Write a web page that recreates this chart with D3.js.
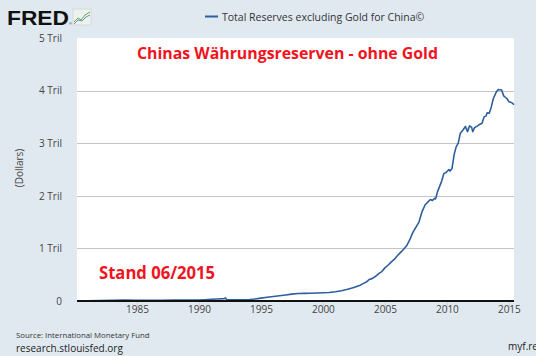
<!DOCTYPE html>
<html><head><meta charset="utf-8">
<script src="https://cdn.jsdelivr.net/npm/d3@7"></script>
<style>
html,body{margin:0;padding:0;background:#e1e9f0;overflow:hidden}
svg{display:block}
</style></head>
<body>
<svg id="c" width="536" height="356"></svg>
<script>
// Data: Total Reserves excluding Gold for China (billions of US dollars)
const dates = ["1980-03","1981-01","1982-01","1983-01","1984-01","1985-01","1986-01","1987-01","1988-01","1989-01",
"1990-01","1990-07","1991-01","1991-07","1992-01","1992-03","1992-04","1993-01","1994-01","1994-07",
"1995-01","1995-07","1996-01","1996-07","1997-01","1997-07","1998-01","1998-07","1999-01","1999-07",
"2000-01","2000-07","2001-01","2001-07","2002-01","2002-07","2003-01","2003-04","2003-07","2003-10",
"2004-01","2004-04","2004-07","2004-10","2005-01","2005-04","2005-07","2005-10","2006-01","2006-04",
"2006-07","2006-10","2007-01","2007-04","2007-07","2007-10","2008-01","2008-04","2008-07","2008-09",
"2008-11","2009-01","2009-02","2009-04","2009-06","2009-08","2009-10","2009-12","2010-02","2010-03",
"2010-04","2010-06","2010-08","2010-10","2010-12","2011-02","2011-05","2011-07","2011-09","2011-11",
"2012-01","2012-02","2012-04","2012-06","2012-08","2012-11","2013-01","2013-03","2013-04","2013-06",
"2013-08","2013-10","2014-01","2014-03","2014-06","2014-08","2014-11","2015-01","2015-04","2015-06"];
const reserves = [2.5,4,8,13,16,15,12,14,18,18,
20,25,32,38,45,55,22,21,24,38,
55,72,85,100,115,130,143,145,148,153,
157,162,175,195,225,255,300,330,360,410,
430,470,520,560,630,680,740,790,860,920,
980,1050,1160,1300,1400,1500,1700,1830,1890,1930,
1910,1950,1940,2080,2180,2280,2420,2440,2480,2500,
2470,2520,2780,2930,3000,3190,3260,3320,3220,3330,
3300,3220,3300,3320,3350,3380,3500,3520,3580,3570,
3690,3850,3980,4020,4010,3900,3850,3790,3770,3730];
const yTicks = [0,1000,2000,3000,4000,5000];
const yTickLabels = ["0","1 Tril","2 Tril","3 Tril","4 Tril","5 Tril"];
const xTickYears = [1985,1990,1995,2000,2005,2010,2015];
const seriesName = "Total Reserves excluding Gold for China\u00A9";
const title = "Chinas Währungsreserven - ohne Gold";
const note = "Stand 06/2015";

const parse = d3.timeParse("%Y-%m");
const data = dates.map((d,i)=>({date:parse(d), v:reserves[i]}));

const svg = d3.select("#c");
const L=77, R=514, T=38, B=301;
const x = d3.scaleTime().domain(d3.extent(data,d=>d.date)).range([L,R]);
const y = d3.scaleLinear().domain([0,5000]).range([B,T]);

svg.append("rect").attr("width",536).attr("height",356).attr("fill","#e1e9f0");
svg.append("rect").attr("x",L).attr("y",T).attr("width",R-L).attr("height",B-T).attr("fill","#ffffff");

// gridlines
svg.append("g").selectAll("line").data(yTicks.filter(t=>t>0&&t<5000)).join("line")
  .attr("x1",L).attr("x2",R).attr("y1",d=>Math.round(y(d))+0.5).attr("y2",d=>Math.round(y(d))+0.5)
  .attr("stroke","#c4c4c4").attr("stroke-width",1);

// y axis labels
const yAxis = d3.axisLeft(y).tickValues(yTicks).tickFormat((d,i)=>yTickLabels[i]).tickSize(0).tickPadding(0);
const gy = svg.append("g").attr("transform",`translate(62,0)`).call(yAxis);
gy.select(".domain").remove();
gy.selectAll("text").attr("font-family","Open Sans, sans-serif").attr("font-size",10).attr("fill","#444");

svg.append("text").attr("transform","translate(23,168) rotate(-90)").attr("text-anchor","middle")
  .attr("font-family","Open Sans, sans-serif").attr("font-size",10).attr("fill","#444").text("(Dollars)");

// x axis
const xAxis = d3.axisBottom(x).tickValues(xTickYears.map(yv=>new Date(yv,0,1)))
  .tickFormat(d3.timeFormat("%Y")).tickSize(9).tickPadding(3);
const gx = svg.append("g").attr("transform",`translate(0,${B})`).call(xAxis);
gx.select(".domain").remove();
gx.selectAll("line").attr("stroke","#c8d4e0");
gx.selectAll("text").attr("font-family","Open Sans, sans-serif").attr("font-size",10).attr("fill","#444").attr("dy","-0.05em");

// series line
svg.append("path").datum(data)
  .attr("d",d3.line().x(d=>x(d.date)).y(d=>y(d.v)))
  .attr("fill","none").attr("stroke","#2f5e9e").attr("stroke-width",1.6).attr("stroke-linejoin","round");

// baseline
svg.append("line").attr("x1",L).attr("x2",R).attr("y1",B).attr("y2",B).attr("stroke","#111").attr("stroke-width",2);

// legend
svg.append("line").attr("x1",205).attr("x2",218).attr("y1",16.5).attr("y2",16.5).attr("stroke","#2f5e9e").attr("stroke-width",2);
svg.append("text").attr("x",222).attr("y",20.5).attr("font-family","Open Sans, sans-serif").attr("font-size",10.5)
  .attr("fill","#333").text(seriesName);

// FRED logo
svg.append("text").attr("x",7).attr("y",24.5).attr("font-family","Liberation Sans, Arial, sans-serif").attr("font-weight",900)
  .attr("font-size",21).attr("fill","#111").attr("textLength",62).attr("lengthAdjust","spacingAndGlyphs").text("FRED");
svg.append("text").attr("x",69).attr("y",25).attr("font-family","Liberation Sans, sans-serif").attr("font-size",4).attr("fill","#333").text("®");
const ic = svg.append("g").attr("transform","translate(73,9)");
ic.append("rect").attr("width",18).attr("height",16).attr("fill","#eef2ee").attr("stroke","#d6dbd6");
ic.append("polyline").attr("points","1,13 5,9 8,11 12,6 17,3").attr("fill","none").attr("stroke","#6aa84f").attr("stroke-width",1);
ic.append("polyline").attr("points","1,15 5,11 9,12 13,8 17,6").attr("fill","none").attr("stroke","#5b8fc7").attr("stroke-width",1);

// red annotations
svg.append("text").attr("x",137).attr("y",58.5).attr("font-family","Open Sans, sans-serif").attr("font-weight",700)
  .attr("font-size",16).attr("fill","#f0141e").attr("textLength",301).attr("lengthAdjust","spacingAndGlyphs").text(title);
svg.append("text").attr("x",99).attr("y",279).attr("font-family","Open Sans, sans-serif").attr("font-weight",700)
  .attr("font-size",17).attr("fill","#f0141e").attr("textLength",116).attr("lengthAdjust","spacingAndGlyphs").text(note);

// footer
svg.append("text").attr("x",16).attr("y",338).attr("font-family","Open Sans, sans-serif").attr("font-size",7.8)
  .attr("fill","#333").text("Source: International Monetary Fund");
svg.append("text").attr("x",16).attr("y",352).attr("font-family","Open Sans, sans-serif").attr("font-size",10)
  .attr("fill","#222").text("research.stlouisfed.org");
svg.append("text").attr("x",508).attr("y",350).attr("font-family","Open Sans, sans-serif").attr("font-size",10)
  .attr("fill","#222").text("myf.re");
</script>
</body></html>
